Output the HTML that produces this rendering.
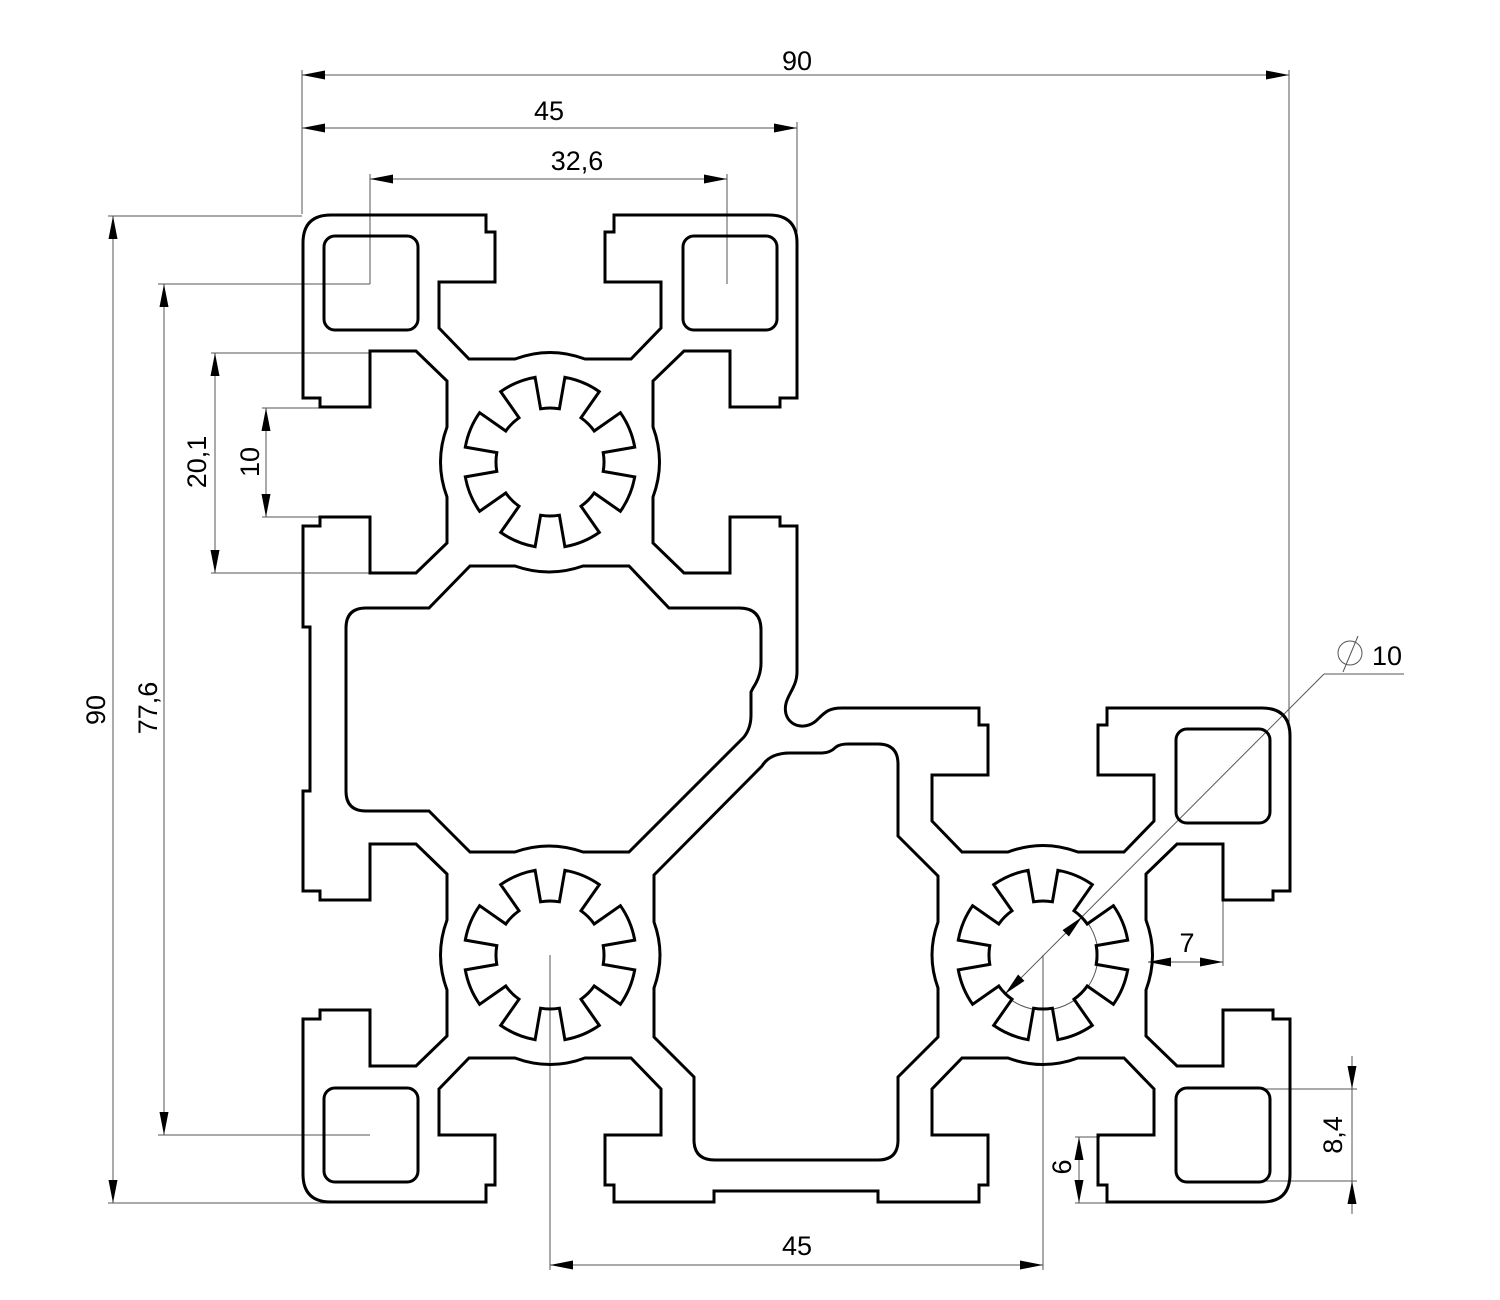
<!DOCTYPE html>
<html><head><meta charset="utf-8"><style>
html,body{margin:0;padding:0;background:#fff;}
svg{display:block;}
text{font-family:"Liberation Sans",sans-serif;font-size:27px;fill:#000;}
</style></head><body>
<svg id="s" width="1500" height="1300" viewBox="0 0 1500 1300" xmlns="http://www.w3.org/2000/svg">
<rect width="1500" height="1300" fill="#fff"/>
<g id="dims" stroke="#555" stroke-width="1" fill="none">
  <line x1="302" y1="75" x2="1289" y2="75"/>
  <line x1="302" y1="70" x2="302" y2="214"/>
  <line x1="1289" y1="70" x2="1289" y2="740"/>
  <line x1="302" y1="128" x2="797" y2="128"/>
  <line x1="797" y1="122" x2="797" y2="232"/>
  <line x1="370" y1="179" x2="727" y2="179"/>
  <line x1="370" y1="174" x2="370" y2="284"/>
  <line x1="727" y1="174" x2="727" y2="284"/>
  <line x1="113" y1="216" x2="113" y2="1203"/>
  <line x1="108" y1="216" x2="302" y2="216"/>
  <line x1="108" y1="1203" x2="330" y2="1203"/>
  <line x1="164" y1="284" x2="164" y2="1135"/>
  <line x1="158" y1="284" x2="370" y2="284"/>
  <line x1="158" y1="1135" x2="370" y2="1135"/>
  <line x1="215" y1="353" x2="215" y2="573"/>
  <line x1="211" y1="353" x2="370" y2="353"/>
  <line x1="211" y1="573" x2="370" y2="573"/>
  <line x1="266" y1="408" x2="266" y2="517"/>
  <line x1="262" y1="408" x2="320" y2="408"/>
  <line x1="262" y1="517" x2="320" y2="517"/>
  <line x1="550" y1="1265" x2="1043" y2="1265"/>
  <line x1="550" y1="955" x2="550" y2="1270"/>
  <line x1="1043" y1="955" x2="1043" y2="1270"/>
  <line x1="1148" y1="962" x2="1223" y2="962"/>
  <line x1="1223" y1="900" x2="1223" y2="966"/>
  <line x1="1352" y1="1056" x2="1352" y2="1214"/>
  <line x1="1263" y1="1089" x2="1357" y2="1089"/>
  <line x1="1263" y1="1181" x2="1357" y2="1181"/>
  <line x1="1079" y1="1137" x2="1079" y2="1203"/>
  <line x1="1075" y1="1137" x2="1100" y2="1137"/>
  <line x1="1075" y1="1203" x2="1106" y2="1203"/>
  <line x1="1005" y1="994" x2="1324" y2="674"/>
  <line x1="1324" y1="674" x2="1404" y2="674"/>
  <path d="M1081.9 916.1 A55 55 0 1 1 1004.1 993.9"/>
  <circle cx="1350" cy="653" r="12"/>
  <line x1="1343" y1="672" x2="1358" y2="636"/>
</g>
<g id="arrows" fill="#000" stroke="none"></g>
<g id="prof" stroke="#000" stroke-width="3" fill="none" stroke-linejoin="miter">
  <path id="outer"/>
  <rect x="324" y="236" width="94" height="94" rx="11"/>
  <rect x="683" y="236" width="94" height="94" rx="11"/>
  <rect x="324" y="1088" width="94" height="94" rx="11"/>
  <rect x="1176" y="729" width="94" height="94" rx="11"/>
  <rect x="1176" y="1088" width="94" height="94" rx="11"/>
  <path d="M470 566 L515 566 Q549 578 583 566 L629 566 L669 608 L739 608 Q761 608 761 630 L761 663 Q761 676 753 688 L751 692 L751 715 Q751 728 744 737 L629 852 L583 852 Q549 840 515 852 L470 852 L429 811 L366 811 Q346 811 346 791 L346 628 Q346 608 366 608 L429 608 Z"/>
  <path d="M654 875 L762 766 Q770 753 790 753 L822 753 Q830 753 836 747 Q840 744 848 744 L878 744 Q898 744 898 764 L898 836 L938 876 L938 922 Q926 955 938 988 L938 1037 L898 1077 L898 1140 Q898 1160 878 1160 L715 1160 Q694 1160 694 1140 L694 1077 L654 1037 L654 988 Q666 955 654 922 Z"/>
  <path id="st1"/><path id="st2"/><path id="st3"/>
</g>
<g>
  <text x="797" y="70" text-anchor="middle">90</text>
  <text x="549" y="120" text-anchor="middle">45</text>
  <text x="577" y="170" text-anchor="middle">32,6</text>
  <text x="797" y="1255" text-anchor="middle">45</text>
  <text x="1187" y="952" text-anchor="middle">7</text>
  <text x="1372" y="665" font-size="29">10</text>
  <text transform="translate(105,710) rotate(-90)" text-anchor="middle">90</text>
  <text transform="translate(157,708) rotate(-90)" text-anchor="middle">77,6</text>
  <text transform="translate(206,462) rotate(-90)" text-anchor="middle">20,1</text>
  <text transform="translate(259,462) rotate(-90)" text-anchor="middle">10</text>
  <text transform="translate(1071,1167) rotate(-90)" text-anchor="middle">6</text>
  <text transform="translate(1342,1135) rotate(-90)" text-anchor="middle">8,4</text>
</g>
</svg>
<script>
(function(){
var R=[function(x,y){return[x,y]},function(x,y){return[-y,x]},function(x,y){return[-x,-y]},function(x,y){return[y,-x]}];
var S=[[-64,-247],[-64,-230],[-55,-230],[-55,-180],[-111,-180],[-111,-134],[-81,-103],[-35,-103],'Q',[0,-116],[35,-103],[81,-103],[111,-134],[111,-180],[55,-180],[55,-230],[64,-230],[64,-247]];
var K=[[-247,-219],'Q',[-247,-247],[-219,-247]];
function seq(c,d,p){var s='';for(var i=0;i<p.length;i++){if(p[i]==='Q'){var a=R[d](p[i+1][0],p[i+1][1]),b=R[d](p[i+2][0],p[i+2][1]);s+='Q'+(c[0]+a[0])+' '+(c[1]+a[1])+' '+(c[0]+b[0])+' '+(c[1]+b[1])+' ';i+=2;}else{var a=R[d](p[i][0],p[i][1]);s+='L'+(c[0]+a[0])+' '+(c[1]+a[1])+' ';}}return s;}
var C1=[550,462],C2=[550,955],C3=[1043,955];
var d='M303 627 '+seq(C1,3,S)+seq(C1,0,K)+seq(C1,0,S)+seq(C1,1,K)+seq(C1,1,S)+
'L797 672 C797 690 782 698 786 714 C790 728 808 730 818 719 C826 711 830 708 842 708 '+
seq(C3,0,S)+seq(C3,1,K)+seq(C3,1,S)+seq(C3,2,K)+seq(C3,2,S)+
'L878 1202 L878 1191 L714 1191 L714 1202 '+seq(C2,2,S)+seq(C2,3,K)+seq(C2,3,S)+
'L303 791 L310 791 L310 627 Z';
document.getElementById('outer').setAttribute('d',d);
function star(c){var Ro=86,ri=54,s='',f=Math.PI/180;function P(r,a){return (c[0]+r*Math.cos(a*f)).toFixed(1)+' '+(c[1]+r*Math.sin(a*f)).toFixed(1);}
s='M'+P(Ro,-10);for(var k=0;k<8;k++){var t=k*45;s+=' L'+P(ri,t-10)+' A'+ri+' '+ri+' 0 0 1 '+P(ri,t+10)+' L'+P(Ro,t+10)+' A'+Ro+' '+Ro+' 0 0 1 '+P(Ro,t+35);}return s+' Z';}
document.getElementById('st1').setAttribute('d',star(C1));
document.getElementById('st2').setAttribute('d',star(C2));
document.getElementById('st3').setAttribute('d',star(C3));
var g=document.getElementById('arrows'),h='';
function ar(x,y,dx,dy){var L=23,W=4.5,n=Math.sqrt(dx*dx+dy*dy);dx/=n;dy/=n;var bx=x-dx*L,by=y-dy*L;h+='<polygon points="'+x+','+y+' '+(bx-dy*W)+','+(by+dx*W)+' '+(bx+dy*W)+','+(by-dx*W)+'"/>';}
ar(302,75,-1,0);ar(1289,75,1,0);
ar(302,128,-1,0);ar(797,128,1,0);
ar(370,179,-1,0);ar(727,179,1,0);
ar(113,216,0,-1);ar(113,1203,0,1);
ar(164,284,0,-1);ar(164,1135,0,1);
ar(215,353,0,-1);ar(215,573,0,1);
ar(266,408,0,-1);ar(266,517,0,1);
ar(550,1265,-1,0);ar(1043,1265,1,0);
ar(1148,962,-1,0);ar(1223,962,1,0);
ar(1352,1089,0,1);ar(1352,1181,0,-1);
ar(1079,1137,0,-1);ar(1079,1203,0,1);
ar(1082,917,1,-1);ar(1005,994,-1,1);
g.innerHTML=h;
})();
</script>
</body></html>
